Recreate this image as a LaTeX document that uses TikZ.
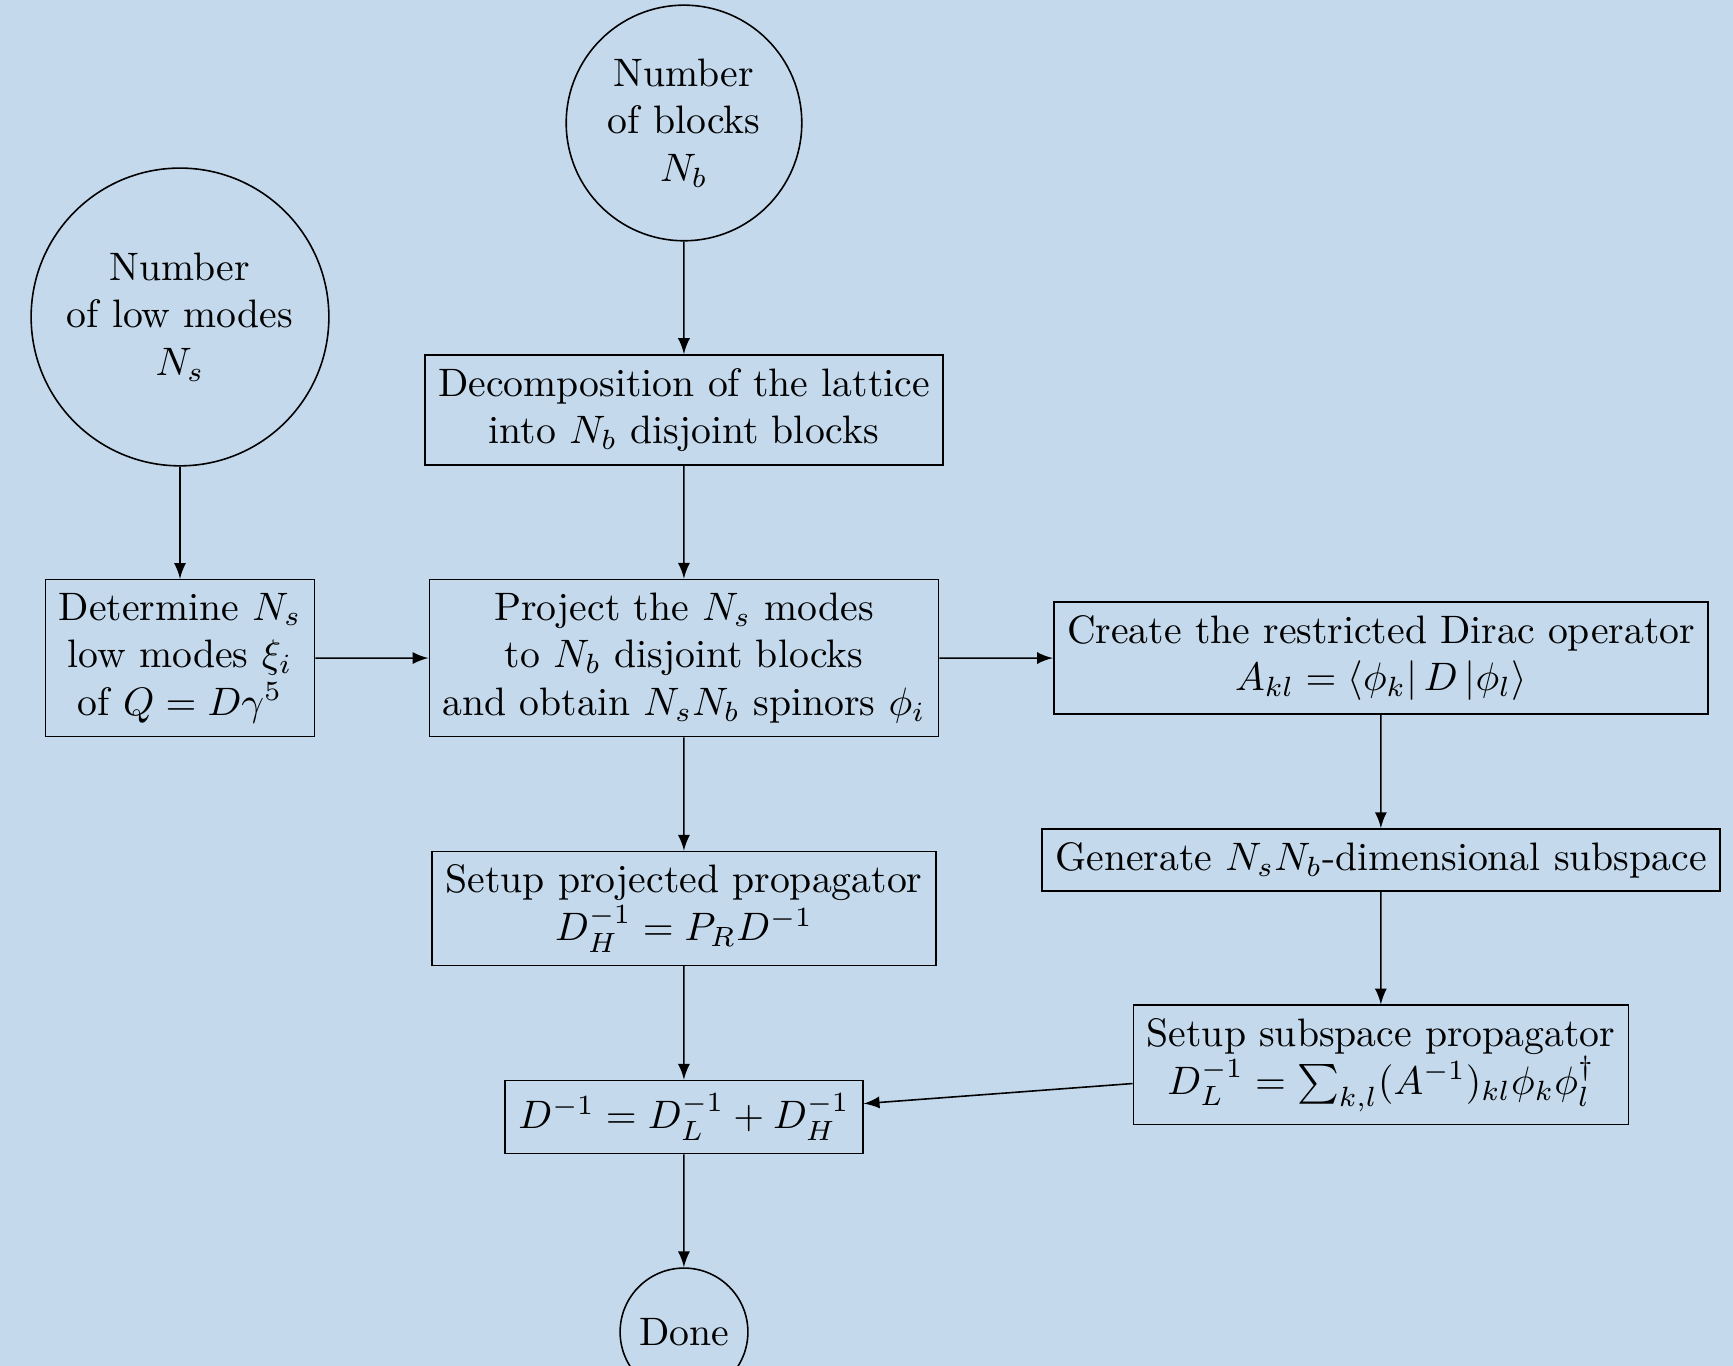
\documentclass[tikz,border=0pt]{standalone}
\usepackage{amsmath}
\definecolor{bgblue}{RGB}{196,217,236}
\tikzset{
  box/.style={draw, rectangle, align=center},
  round/.style={draw, circle, align=center, inner sep=1pt},
  flow/.style={->, >=latex}
}
\begin{document}
\begin{tikzpicture}[scale=0.9833]
    % background and frame of the picture
    \useasboundingbox[fill=bgblue] (0,0) rectangle (15.597,12.294);

    % inputs
    \node[round, minimum size=2.085cm] (blocks) at (6.156, 11.187) {Number\\of blocks\\$N_b$};
    \node[round, minimum size=2.635cm] (lowmodes) at (1.62, 9.441) {Number\\of low modes\\$N_s$};

    % middle column
    \node[box] (decomp) at (6.156, 8.604) {Decomposition of the lattice\\into $N_b$ disjoint blocks};
    \node[box] (determine) at (1.62, 6.372) {Determine $N_s$\\low modes $\xi_i$\\of $Q = D\gamma^5$};
    \node[box] (project) at (6.156, 6.372) {Project the $N_s$ modes\\to $N_b$ disjoint blocks\\and obtain $N_sN_b$ spinors $\phi_i$};
    \node[box] (highprop) at (6.156, 4.118) {Setup projected propagator\\$D_H^{-1} = P_R D^{-1}$};
    \node[box] (total) at (6.156, 2.241) {$D^{-1} = D_L^{-1} + D_H^{-1}$};
    \node[round, minimum size=1.131cm] (done) at (6.156, 0.306) {Done};

    % right column
    \node[box] (dirac) at (12.429, 6.372) {Create the restricted Dirac operator\\$A_{kl} = \langle\phi_k|\,D\,|\phi_l\rangle$};
    \node[box] (subspace) at (12.429, 4.554) {Generate $N_sN_b$-dimensional subspace};
    \node[box] (lowprop) at (12.429, 2.709) {Setup subspace propagator\\$D_L^{-1} = \sum_{k,l}(A^{-1})_{kl}\phi_k\phi_l^\dagger$};

    % connections
    \draw[flow] (blocks) -- (decomp);
    \draw[flow] (decomp) -- (project);
    \draw[flow] (lowmodes) -- (determine);
    \draw[flow] (determine) -- (project);
    \draw[flow] (project) -- (dirac);
    \draw[flow] (project) -- (highprop);
    \draw[flow] (dirac) -- (subspace);
    \draw[flow] (subspace) -- (lowprop);
    \draw[flow] (highprop) -- (total);
    \draw[flow] (lowprop) -- (total);
    \draw[flow] (total) -- (done);
\end{tikzpicture}
\end{document}
